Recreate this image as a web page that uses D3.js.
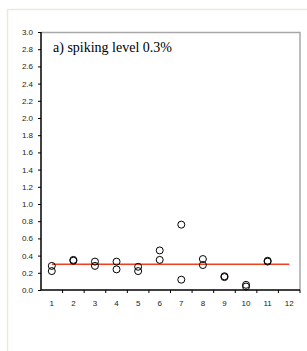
<!DOCTYPE html>
<html>
<head>
<meta charset="utf-8">
<script src="https://cdn.jsdelivr.net/npm/d3@7"></script>
<style>
  body { margin: 0; background: #fff; }
  svg { display: block; }
</style>
</head>
<body>
<svg id="chart" width="307" height="351"></svg>
<script>
// 数据
const categories = ["1", "2", "3", "4", "5", "6", "7", "8", "9", "10", "11", "12"];
const seriesA = [0.28, 0.35, 0.33, 0.33, 0.27, 0.46, 0.76, 0.36, 0.16, 0.06, 0.34];
const seriesB = [0.22, 0.34, 0.28, 0.24, 0.22, 0.35, 0.12, 0.29, 0.15, 0.04, 0.33];
const refLevel = 0.3;
const yTicks = [0, 0.2, 0.4, 0.6, 0.8, 1.0, 1.2, 1.4, 1.6, 1.8, 2.0, 2.2, 2.4, 2.6, 2.8, 3.0];
const title = "a) spiking level 0.3%";

const svg = d3.select("#chart");
const margin = { top: 32, right: 8, bottom: 61, left: 41 };
const width = 300 - margin.left;
const height = 290 - margin.top;

// 外框
svg.append("path")
    .attr("d", "M7.5,351 V9.5 H307")
    .attr("fill", "none")
    .attr("stroke", "#e3edda")
    .attr("stroke-width", 1.5);

const chart = svg.append("g")
    .attr("transform", `translate(${margin.left},${margin.top})`);

const xScale = d3.scaleBand()
    .domain(categories)
    .range([0, width]);

const yScale = d3.scaleLinear()
    .domain([0, 3])
    .range([height, 0]);

// 上、右边框
chart.append("path")
    .attr("d", `M0,0.5 H${width} V${height}`)
    .attr("fill", "none")
    .attr("stroke", "#a8a8a8")
    .attr("stroke-width", 1.5);

// 参考线
chart.append("line")
    .attr("x1", xScale("1") + xScale.bandwidth() / 2)
    .attr("x2", xScale("12") + xScale.bandwidth() / 2)
    .attr("y1", yScale(refLevel))
    .attr("y2", yScale(refLevel))
    .attr("stroke", "#f04020")
    .attr("stroke-width", 1.5);

// 数据点
const points = [];
seriesA.forEach((v, i) => points.push({ c: categories[i], v: v }));
seriesB.forEach((v, i) => points.push({ c: categories[i], v: v }));

chart.selectAll("circle")
    .data(points)
    .enter().append("circle")
    .attr("cx", d => xScale(d.c) + xScale.bandwidth() / 2)
    .attr("cy", d => yScale(d.v))
    .attr("r", 3.5)
    .attr("fill", "none")
    .attr("stroke", "#000")
    .attr("stroke-width", 1);

// y轴
const yAxis = chart.append("g")
    .call(d3.axisLeft(yScale)
        .tickValues(yTicks)
        .tickSize(3)
        .tickFormat(d3.format(".1f")));
yAxis.select(".domain").attr("stroke", "#000").attr("stroke-width", 1.5)
    .attr("d", `M0,0 V${height}`);
yAxis.selectAll("text")
    .attr("x", -8)
    .style("font-family", "Arial, 'Liberation Sans', sans-serif")
    .style("font-size", "8px")
    .attr("fill", "#222");

// x轴
const xAxis = chart.append("g")
    .attr("transform", `translate(0,${height})`)
    .call(d3.axisBottom(xScale).tickSize(0).tickPadding(10));
xAxis.select(".domain").attr("stroke", "#000").attr("stroke-width", 1.5)
    .attr("d", `M0,0 H${width}`);
xAxis.selectAll("text")
    .style("font-family", "Arial, 'Liberation Sans', sans-serif")
    .style("font-size", "8px")
    .attr("fill", "#222");

// 类别之间的刻度
chart.append("g")
    .selectAll("line")
    .data(categories)
    .enter().append("line")
    .attr("x1", d => xScale(d) + xScale.bandwidth())
    .attr("x2", d => xScale(d) + xScale.bandwidth())
    .attr("y1", height)
    .attr("y2", height + 3)
    .attr("stroke", "#000")
    .attr("stroke-width", 1);

// 标题
chart.append("text")
    .attr("x", 12)
    .attr("y", 20)
    .style("font-family", "'Liberation Serif', 'Times New Roman', serif")
    .style("font-size", "14px")
    .text(title);
</script>
</body>
</html>
